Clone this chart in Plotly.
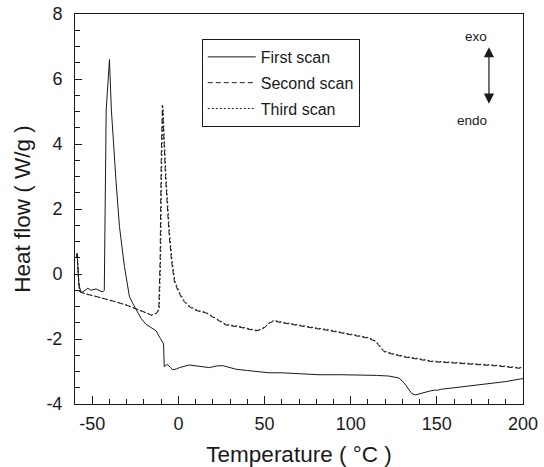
import plotly.graph_objects as go

# ---------------- data ----------------
first_x = [-59.2, -58.8, -58.2, -57.7, -56.3, -54.5, -52.5, -50.8, -49.6, -47.7, -45.5, -43.8, -43.0,
           -41.9, -40.0, -38.9, -36.1, -34.2, -31.3, -28.4, -26.5, -24.5, -21.5, -18.7, -16.0, -12.9,
           -10.5, -8.6, -8.2, -6.5, -4.5, -3.3, -1.0, 0.6, 6.4, 12.0, 18.0, 22.0, 25.7, 30.0, 33.4,
           40.0, 52.7, 60.0, 72.0, 81.6, 95.0, 104.8, 115.0, 122.2, 126.0, 128.0, 131.0, 133.8, 135.5,
           137.6, 140.0, 143.0, 146.0, 149.2, 150.5, 152.0, 160.0, 170.0, 180.0, 190.0, 198.4, 200.0]
first_y = [0.55, 0.64, 0.1, -0.35, -0.58, -0.52, -0.44, -0.5, -0.49, -0.46, -0.52, -0.55, -0.5,
           5.05, 6.6, 5.05, 2.79, 1.46, 0.23, -0.7, -0.9, -1.1, -1.38, -1.55, -1.65, -1.75,
           -1.98, -2.15, -2.85, -2.78, -2.88, -2.95, -2.92, -2.88, -2.8, -2.84, -2.88, -2.83, -2.82, -2.88, -2.93,
           -2.97, -3.04, -3.04, -3.08, -3.1, -3.1, -3.1, -3.12, -3.14, -3.17, -3.2, -3.35, -3.57, -3.68,
           -3.72, -3.68, -3.64, -3.6, -3.57, -3.58, -3.55, -3.5, -3.43, -3.37, -3.31, -3.23, -3.22]

second_x = [-59.2, -58.7, -58.0, -57.3, -55.5, -53.4, -50.0, -45.7, -40.0, -36.1, -30.0, -26.5, -20.7,
            -17.5, -15.8, -13.8, -12.5, -11.4, -10.6, -10.0, -9.3, -8.8, -7.5, -5.5, -4.0, -2.3, 0.0,
            2.5, 5.5, 9.3, 12.0, 16.0, 20.0, 27.6, 35.0, 40.0, 45.0, 48.0, 50.8, 53.0, 55.6, 60.0, 65.0,
            72.0, 80.0, 87.4, 95.0, 104.8, 110.6, 114.5, 117.0, 119.3, 125.0, 131.8, 140.0, 147.3, 160.0,
            170.4, 185.0, 197.5, 200.0]
second_y = [0.5, 0.6, -0.1, -0.54, -0.58, -0.62, -0.66, -0.72, -0.79, -0.86, -0.96, -1.03, -1.16,
            -1.22, -1.27, -1.24, -1.2, -1.06, 0.5, 3.5, 5.2, 4.6, 3.0, 1.3, 0.4, -0.25, -0.55,
            -0.8, -0.98, -1.1, -1.15, -1.2, -1.33, -1.57, -1.63, -1.7, -1.75, -1.72, -1.62, -1.5, -1.45, -1.5, -1.55,
            -1.62, -1.68, -1.74, -1.82, -1.93, -1.98, -2.08, -2.25, -2.39, -2.48, -2.56, -2.63, -2.7, -2.74,
            -2.77, -2.83, -2.9, -2.9]

third_x = [-59.2, -58.7, -58.0, -57.3, -55.5, -53.4, -50.0, -45.7, -40.0, -36.1, -30.0, -26.5, -20.7,
           -17.5, -15.8, -13.8, -12.3, -11.1, -10.3, -9.7, -9.0, -8.5, -7.2, -5.2, -3.7, -2.0, 0.3,
           2.8, 5.8, 9.5, 12.0, 16.0, 20.0, 27.6, 35.0, 40.0, 45.0, 48.0, 50.8, 53.0, 55.6, 60.0, 65.0,
           72.0, 80.0, 87.4, 95.0, 104.8, 110.6, 114.5, 117.0, 119.3, 125.0, 131.8, 140.0, 147.3, 160.0,
           170.4, 185.0, 197.5, 200.0]
third_y = [0.5, 0.6, -0.1, -0.54, -0.58, -0.62, -0.66, -0.72, -0.79, -0.86, -0.96, -1.03, -1.16,
           -1.22, -1.27, -1.24, -1.2, -1.05, 0.5, 3.5, 5.15, 4.55, 3.0, 1.3, 0.42, -0.22, -0.52,
           -0.78, -0.96, -1.08, -1.13, -1.18, -1.3, -1.55, -1.61, -1.68, -1.73, -1.7, -1.6, -1.48, -1.43, -1.48, -1.53,
           -1.6, -1.66, -1.72, -1.8, -1.91, -1.96, -2.06, -2.23, -2.37, -2.46, -2.54, -2.61, -2.68, -2.72,
           -2.75, -2.81, -2.88, -2.88]

series_names = ["First scan", "Second scan", "Third scan"]

x_tickvals = [-50, 0, 50, 100, 150, 200]
x_ticktext = ["-50", "0", "50", "100", "150", "200"]
y_tickvals = [-4, -2, 0, 2, 4, 6, 8]
y_ticktext = ["-4", "-2", "0", "2", "4", "6", "8"]

FONT = "Liberation Sans, Arial, sans-serif"
INK = "#1a1a1a"

fig = go.Figure()
for xs, ys, name, dash, grp in [
    (first_x, first_y, series_names[0], "solid", "a"),
    (second_x, second_y, series_names[1], "5px,3px", "b"),
    (third_x, third_y, series_names[2], "2px,2px", "c"),
]:
    fig.add_trace(go.Scatter(x=xs, y=ys, mode="lines", name=name, legendgroup=grp,
                             line=dict(color=INK, width=1, dash=dash)))

axis_common = dict(showline=True, linecolor=INK, linewidth=1, mirror=True, showgrid=False,
                   zeroline=False, ticks="inside", tickcolor=INK, tickwidth=1,
                   tickfont=dict(family=FONT, size=18, color=INK))

fig.update_xaxes(range=[-60, 200], tickvals=x_tickvals, ticktext=x_ticktext, ticklen=8,
                 ticklabelstandoff=3,
                 minor=dict(dtick=10, ticklen=5, ticks="inside", tickcolor=INK),
                 title=dict(text="Temperature ( °C )", font=dict(family=FONT, size=22.5, color=INK), standoff=14),
                 **axis_common)
fig.update_yaxes(range=[-4, 8], tickvals=y_tickvals, ticktext=y_ticktext, ticklen=7,
                 ticklabelstandoff=8,
                 minor=dict(dtick=0.5, ticklen=5, ticks="inside", tickcolor=INK),
                 title=dict(text="Heat flow ( W/g )", font=dict(family=FONT, size=22.5, color=INK), standoff=9),
                 **axis_common)

fig.update_layout(
    width=544, height=467,
    margin=dict(l=75, r=21, t=14, b=63, autoexpand=False),
    paper_bgcolor="white", plot_bgcolor="white",
    font=dict(family=FONT, color=INK),
    legend=dict(x=0.283, y=0.936, xanchor="left", yanchor="top", bgcolor="white",
                bordercolor=INK, borderwidth=1, font=dict(family=FONT, size=16, color=INK),
                tracegroupgap=2, itemwidth=48),
)

# exo / endo indicator
fig.add_annotation(x=0.924, y=0.915, xref="paper", yref="paper", text="", showarrow=True,
                   ax=0, ay=58, axref="pixel", ayref="pixel", arrowside="end+start",
                   arrowhead=2, arrowsize=1.7, arrowwidth=1.2, arrowcolor=INK)
fig.add_annotation(x=0.924, y=0.943, xref="paper", yref="paper", text="exo", showarrow=False,
                   font=dict(family=FONT, size=13.5, color=INK), yanchor="middle")
fig.add_annotation(x=0.924, y=0.728, xref="paper", yref="paper", text="endo", showarrow=False,
                   font=dict(family=FONT, size=13.5, color=INK), yanchor="middle")

fig.write_html("out.html")
